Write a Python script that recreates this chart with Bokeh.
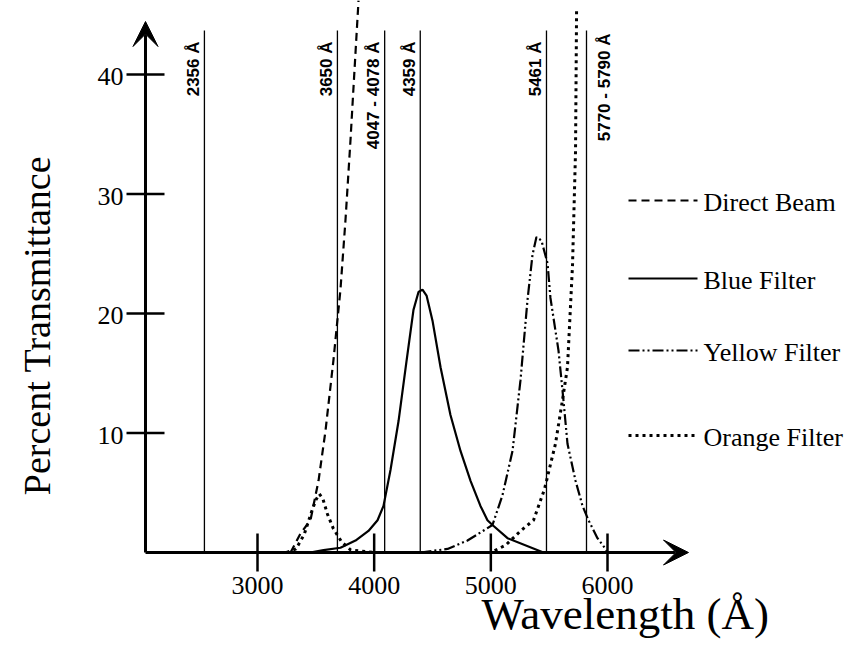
import math
from bokeh.plotting import figure
from bokeh.models import Range1d, Arrow, VeeHead
from bokeh.core.properties import value
from bokeh.embed import file_html
from bokeh.resources import INLINE

# ---------------- data ----------------
x_ticks = [3000, 4000, 5000, 6000]
y_ticks = [10, 20, 30, 40]

line_wavelengths = [2545, 3685, 4090, 4395, 5477, 5820]
line_labels = ["2356 Å", "3650 Å", "4047 - 4078 Å", "4359 Å", "5461 Å", "5770 - 5790 Å"]

direct_x = [3283, 3369, 3454, 3523, 3583, 3651, 3711, 3754, 3797, 3831, 3866]
direct_y = [0, 1.6, 2.7, 6.0, 10.2, 16.1, 22.0, 27.8, 34.5, 40.3, 46.2]

blue_x = [3450, 3566, 3711, 3840, 3951, 4029, 4080, 4140, 4209, 4277, 4337, 4380,
          4414, 4449, 4500, 4569, 4654, 4740, 4826, 4911, 4971, 5014, 5143, 5451]
blue_y = [0, 0.2, 0.4, 1.0, 1.8, 2.7, 3.9, 6.9, 11.0, 16.0, 20.3, 21.8,
          22.0, 21.5, 19.4, 15.5, 11.5, 8.5, 6.0, 3.9, 2.7, 2.3, 1.2, 0]

yellow_x = [4397, 4629, 4800, 5014, 5100, 5186, 5254, 5314, 5357, 5391, 5434, 5486,
            5511, 5580, 5623, 5657, 5726, 5786, 5837, 5914, 5983, 6000]
yellow_y = [0, 0.3, 1.0, 2.3, 4.8, 8.5, 14.4, 21.1, 24.9, 26.4, 26.1, 24.2,
            21.3, 16.9, 12.7, 9.1, 6.0, 3.9, 2.7, 1.2, 0.3, 0]

orange_x = [3250, 3330, 3400, 3460, 3500, 3530, 3560, 3600, 3650, 3720, 3800, 4000,
            4500, 4997, 5126, 5254, 5366, 5460, 5554, 5610, 5657, 5700, 5726, 5735]
orange_y = [0, 0.3, 1.5, 3.3, 4.4, 4.9, 4.5, 3.2, 2.0, 0.9, 0.2, 0,
            0, 0, 0.6, 1.8, 2.7, 5.3, 9.1, 12.5, 15.5, 24, 33.6, 45.5]

legend_names = ["Direct Beam", "Blue Filter", "Yellow Filter", "Orange Filter"]

# ---------------- layout helpers (canvas pixels -> data) ----------------
W, H = 845, 658
SX = 350.0 / 3000.0   # px per Angstrom
SY = 11.95            # px per percent
def X(px):
    return 3000 + (px - 257) / SX
def Y(py):
    return (552 - py) / SY

p = figure(width=W, height=H,
           x_range=Range1d(X(0), X(W)), y_range=Range1d(Y(H), Y(0)),
           output_backend="svg", toolbar_location=None, min_border=0,
           x_axis_location=None, y_axis_location=None)
for g in p.grid:
    g.visible = False
p.outline_line_color = None
p.background_fill_color = "white"

BLACK = "black"
SERIF = value("Liberation Serif")

# axes with arrows
x0 = X(145)
p.add_layout(Arrow(x_start=x0, y_start=0, x_end=X(688), y_end=0, line_width=3,
                   line_color=BLACK,
                   end=VeeHead(size=25, fill_color=BLACK, line_color=BLACK, line_width=1)))
p.add_layout(Arrow(x_start=x0, y_start=0, x_end=x0, y_end=Y(21), line_width=3,
                   line_color=BLACK,
                   end=VeeHead(size=25, fill_color=BLACK, line_color=BLACK, line_width=1)))

# ticks crossing the axes
th_y = 19 / SY
th_x = 19 / SX
p.segment(x0=x_ticks, y0=[-th_y] * len(x_ticks), x1=x_ticks, y1=[th_y] * len(x_ticks),
          line_width=2.5, line_color=BLACK)
p.segment(x0=[x0 - th_x] * len(y_ticks), y0=y_ticks, x1=[x0 + th_x] * len(y_ticks), y1=y_ticks,
          line_width=2.5, line_color=BLACK)

# tick labels
p.text(x=x_ticks, y=[Y(576)] * len(x_ticks), text=[str(v) for v in x_ticks],
       text_align="center", text_baseline="top", text_font=SERIF,
       text_font_size="26px", text_color=BLACK)
p.text(x=[X(123)] * len(y_ticks), y=[v - 2 / SY for v in y_ticks], text=[str(v) for v in y_ticks],
       text_align="right", text_baseline="middle", text_font=SERIF,
       text_font_size="26px", text_color=BLACK)

# axis titles
p.text(x=[X(36)], y=[Y(325)], text=["Percent Transmittance"], angle=math.pi / 2,
       text_align="center", text_baseline="middle", text_font=SERIF,
       text_font_size="38px", text_color=BLACK)
p.text(x=[X(481)], y=[Y(613)], text=["Wavelength (Å)"],
       text_align="left", text_baseline="middle", text_font=SERIF,
       text_font_size="45px", text_color=BLACK)

# mercury lines
p.segment(x0=line_wavelengths, y0=[0] * len(line_wavelengths),
          x1=line_wavelengths, y1=[Y(30)] * len(line_wavelengths),
          line_width=1.3, line_color=BLACK)
n = len(line_wavelengths)
p.text(x=line_wavelengths[:n - 1], y=[Y(41)] * (n - 1), text=line_labels[:n - 1],
       angle=math.pi / 2, x_offset=-11, text_align="right", text_baseline="middle",
       text_font=value("Liberation Sans"), text_font_style="bold",
       text_font_size="17px", text_color=BLACK)
p.text(x=line_wavelengths[n - 1:], y=[Y(33)], text=line_labels[n - 1:],
       angle=math.pi / 2, x_offset=18, text_align="right", text_baseline="middle",
       text_font=value("Liberation Sans"), text_font_style="bold",
       text_font_size="17px", text_color=BLACK)

# curves
styles = [
    dict(line_dash="8 5", line_width=2.2),
    dict(line_dash="solid", line_width=2.2),
    dict(line_dash="11 3 2 3 2 3", line_width=2.2),
    dict(line_dash="3 4", line_width=3),
]
series = [(direct_x, direct_y), (blue_x, blue_y), (yellow_x, yellow_y), (orange_x, orange_y)]
for (xs, ys), st in zip(series, styles):
    p.line(xs, ys, line_color=BLACK, **st)

# legend (drawn by hand to match the original placement)
legend_rows = [200, 278, 350, 435]
for name, st, row in zip(legend_names, styles, legend_rows):
    p.line([X(628), X(697)], [Y(row), Y(row)], line_color=BLACK, **st)
    p.text(x=[X(703)], y=[Y(row + 2)], text=[name], text_align="left",
           text_baseline="middle", text_font=SERIF, text_font_size="26px",
           text_color=BLACK)

open("out.html", "w").write(file_html(p, INLINE))
